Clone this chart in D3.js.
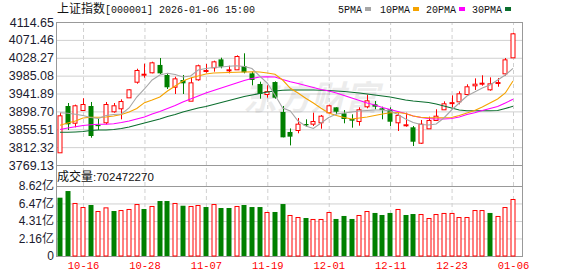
<!DOCTYPE html>
<html>
<head>
<meta charset="utf-8">
<script src="https://cdn.jsdelivr.net/npm/d3@7"></script>
<style>
  body { margin: 0; background: #fff; }
  svg { display: block; }
</style>
</head>
<body>
<svg id="chart" width="578" height="276"></svg>
<script>
// trading days shown on the chart
const dates = [
  "10-13", "10-14", "10-15", "10-16", "10-17", "10-20", "10-21", "10-22", "10-23", "10-24",
  "10-27", "10-28", "10-29", "10-30", "10-31", "11-03", "11-04", "11-05", "11-06", "11-07",
  "11-10", "11-11", "11-12", "11-13", "11-14", "11-17", "11-18", "11-19", "11-20", "11-21",
  "11-24", "11-25", "11-26", "11-27", "11-28", "12-01", "12-02", "12-03", "12-04", "12-05",
  "12-08", "12-09", "12-10", "12-11", "12-12", "12-15", "12-16", "12-17", "12-18", "12-19",
  "12-22", "12-23", "12-24", "12-25", "12-26", "12-29", "12-30", "12-31", "01-05", "01-06",
];

const opens = [
  3799.8, 3911.7, 3871.3, 3902.0, 3911.7, 3866.0, 3872.3, 3898.9, 3906.1, 3932.6,
  3970.4, 3988.5, 3993.1, 4010.9, 3986.6, 3958.3, 3974.5, 3924.5, 3976.2, 3998.0,
  4005.2, 4024.4, 3999.8, 4000.3, 4008.3, 3990.6, 3964.9, 3940.7, 3969.6, 3897.2,
  3848.9, 3853.7, 3868.2, 3869.0, 3872.3, 3896.4, 3908.5, 3894.0, 3880.3, 3875.4,
  3911.0, 3915.8, 3906.1, 3903.7, 3872.3, 3867.0, 3860.2, 3823.0, 3857.7, 3877.9,
  3903.7, 3920.0, 3923.0, 3940.7, 3961.7, 3967.5, 3952.0, 3969.0, 3990.6, 4029.3,
];
const highs = [
  3895.5, 3918.9, 3915.0, 3930.3, 3921.4, 3880.3, 3921.4, 3918.9, 3927.8, 3952.0,
  4001.8, 4013.9, 4018.7, 4027.6, 3990.6, 3982.4, 3986.6, 3980.9, 4011.6, 4013.2,
  4021.2, 4028.4, 4009.1, 4034.1, 4039.0, 3994.6, 3970.4, 3961.7, 3971.2, 3911.7,
  3857.4, 3882.7, 3879.5, 3895.5, 3890.0, 3914.8, 3908.5, 3902.0, 3891.6, 3908.5,
  3939.0, 3923.7, 3910.0, 3908.5, 3894.0, 3895.5, 3863.4, 3877.9, 3885.9, 3903.7,
  3923.0, 3937.5, 3947.2, 3964.1, 3978.5, 3985.9, 3980.9, 3979.3, 4027.6, 4088.8,
];
const lows = [
  3799.8, 3853.7, 3860.2, 3900.4, 3835.1, 3853.7, 3867.5, 3895.5, 3879.5, 3932.6,
  3965.6, 3980.1, 3990.6, 3989.0, 3952.8, 3940.7, 3940.7, 3924.5, 3972.8, 3992.2,
  3994.6, 4002.8, 3990.6, 3998.7, 3990.6, 3961.7, 3929.4, 3931.7, 3929.4, 3836.0,
  3816.5, 3845.7, 3861.7, 3863.4, 3856.8, 3893.8, 3891.6, 3869.9, 3859.3, 3864.1,
  3906.1, 3903.7, 3879.5, 3863.4, 3851.3, 3861.7, 3815.0, 3819.9, 3857.7, 3875.4,
  3903.7, 3908.5, 3915.8, 3940.7, 3950.4, 3960.7, 3948.7, 3958.3, 3984.9, 4029.3,
];
const closes = [
  3889.2, 3867.5, 3913.4, 3916.5, 3839.2, 3863.0, 3916.5, 3913.4, 3923.7, 3952.0,
  3998.7, 3989.7, 4017.2, 3990.6, 3956.9, 3978.5, 3966.5, 3968.8, 4010.1, 3998.7,
  4019.6, 4006.6, 4000.3, 4032.5, 3993.1, 3974.5, 3940.7, 3947.6, 3931.7, 3836.0,
  3837.6, 3869.0, 3865.0, 3875.4, 3888.3, 3913.4, 3897.9, 3880.3, 3876.2, 3903.7,
  3925.4, 3910.0, 3902.0, 3873.7, 3890.0, 3867.5, 3825.4, 3869.0, 3877.9, 3888.3,
  3918.2, 3921.0, 3942.3, 3959.3, 3965.6, 3968.0, 3966.5, 3969.6, 4024.4, 4087.3,
];
const prevClose = 3897.0;

const ma5 = [
  3895.5, 3894.1, 3891.6, 3888.7, 3883.9, 3881.5, 3888.7, 3891.2, 3892.4, 3906.9,
  3933.4, 3952.8, 3974.5, 3986.6, 3990.7, 3987.8, 3981.8, 3984.2, 3998.7, 4002.3,
  4004.7, 4005.9, 4007.6, 4009.1, 4007.1, 4002.3, 3984.2, 3967.3, 3938.3, 3906.9,
  3899.6, 3875.5, 3863.4, 3857.3, 3870.6, 3883.9, 3892.4, 3894.8, 3897.2, 3899.6,
  3900.8, 3902.0, 3902.0, 3899.6, 3891.2, 3880.3, 3871.8, 3867.0, 3865.8, 3868.2,
  3882.7, 3902.0, 3918.9, 3935.9, 3945.5, 3955.2, 3962.4, 3974.5, 3986.6, 4002.8,
];
const ma10 = [
  3865.1, 3870.6, 3875.5, 3882.7, 3884.4, 3884.4, 3885.1, 3887.5, 3891.2, 3897.2,
  3905.7, 3919.7, 3926.2, 3933.4, 3947.9, 3960.0, 3972.1, 3979.4, 3984.2, 3989.0,
  3991.4, 3992.2, 3992.6, 3993.1, 3993.8, 3994.6, 3993.8, 3991.4, 3988.3, 3974.5,
  3954.5, 3943.1, 3930.3, 3918.9, 3906.1, 3894.8, 3888.7, 3883.9, 3880.3, 3882.7,
  3885.1, 3888.7, 3892.4, 3895.5, 3896.0, 3893.6, 3887.5, 3884.4, 3883.4, 3883.4,
  3883.4, 3883.9, 3888.7, 3894.8, 3900.8, 3909.3, 3918.9, 3928.6, 3943.1, 3972.1,
];
const ma20 = [
  3854.9, 3858.5, 3861.4, 3864.6, 3866.3, 3867.5, 3867.7, 3868.9, 3871.8, 3875.5,
  3880.3, 3885.1, 3892.4, 3898.4, 3905.7, 3912.9, 3921.4, 3928.6, 3935.9, 3943.1,
  3949.1, 3955.2, 3961.2, 3967.3, 3973.3, 3978.1, 3981.8, 3982.5, 3981.8, 3975.7,
  3970.4, 3966.1, 3961.2, 3956.4, 3951.6, 3947.9, 3943.1, 3937.1, 3931.0, 3925.0,
  3918.9, 3914.1, 3908.1, 3903.2, 3898.4, 3893.6, 3887.5, 3883.9, 3881.5, 3880.3,
  3880.3, 3881.5, 3885.1, 3891.2, 3895.5, 3900.8, 3905.7, 3910.5, 3918.9, 3927.9,
];
const ma30 = [
  3848.1, 3848.1, 3848.9, 3850.1, 3852.5, 3853.7, 3853.7, 3854.9, 3857.3, 3861.0,
  3865.8, 3870.6, 3875.5, 3880.3, 3886.3, 3891.2, 3897.2, 3902.0, 3906.9, 3910.5,
  3915.3, 3920.2, 3925.0, 3929.8, 3934.7, 3938.3, 3941.9, 3945.5, 3947.9, 3949.6,
  3950.4, 3950.4, 3950.4, 3950.4, 3949.9, 3949.1, 3947.9, 3946.7, 3944.8, 3943.1,
  3940.7, 3938.3, 3935.9, 3933.4, 3929.8, 3926.2, 3923.8, 3922.1, 3920.2, 3916.5,
  3911.7, 3906.9, 3902.0, 3900.3, 3900.3, 3900.3, 3900.3, 3900.8, 3905.7, 3911.0,
];

// volume in 亿
const volumes = [
  7.18, 8.00, 6.53, 6.03, 6.28, 5.54, 5.99, 5.54, 5.66, 5.79,
  6.40, 5.79, 6.16, 6.77, 6.77, 6.53, 6.19, 6.16, 6.28, 6.03,
  6.40, 5.91, 5.91, 6.16, 6.28, 6.03, 6.03, 5.42, 5.42, 6.40,
  5.05, 4.80, 4.68, 4.56, 4.56, 5.42, 4.56, 4.93, 4.56, 5.05,
  5.54, 5.30, 5.05, 5.30, 5.79, 5.05, 5.17, 5.17, 4.68, 5.17,
  5.30, 5.30, 4.80, 4.80, 5.66, 5.66, 5.30, 4.93, 6.03, 7.02,
];
const lastVolume = "702472270";

const priceTicks = [4114.65, 4071.46, 4028.27, 3985.08, 3941.89, 3898.70, 3855.51, 3812.32, 3769.13];
const volTicks = [8.62, 6.47, 4.31, 2.16, 0];
const volTickLabels = ["8.62亿", "6.47亿", "4.31亿", "2.16亿", "0"];
const xTickDates = ["10-16", "10-28", "11-07", "11-19", "12-01", "12-11", "12-23", "01-06"];

const legendItems = [
  { name: "5PMA", color: "#a6a6a6" },
  { name: "10PMA", color: "#f5a300" },
  { name: "20PMA", color: "#ff00ff" },
  { name: "30PMA", color: "#0b6e2e" },
];

const UP = "#ff0000", DOWN = "#008000";
const FRAME = "#999", GRID = "#d0d0d0";

const svg = d3.select("#chart");
const left = 56, right = 522;
const mainTop = 22, mainBottom = 165;
const volTop = 186, volBottom = 256;

const x = d3.scalePoint().domain(dates).range([60, 513]);
const y = d3.scaleLinear().domain([3769.13, 4114.65]).range([mainBottom, mainTop]);
const yVol = d3.scaleLinear().domain([0, 8.62]).range([volBottom, volTop]);

svg.append("rect").attr("width", 578).attr("height", 276).attr("fill", "#fff");

// price grid + labels
const yAxis = svg.append("g")
  .attr("transform", `translate(${left},0)`)
  .call(d3.axisLeft(y).tickValues(priceTicks).tickFormat(d3.format(".2f"))
    .tickSize(-(right - left)).tickPadding(2));
yAxis.select(".domain").remove();
yAxis.selectAll("line").attr("stroke", GRID);
yAxis.selectAll("text").attr("fill", "#1b1b2f")
  .style("font-family", "'Liberation Sans', Arial, sans-serif").style("font-size", "12.5px");

// volume grid + labels
const vAxis = svg.append("g")
  .attr("transform", `translate(${left},0)`)
  .call(d3.axisLeft(yVol).tickValues(volTicks).tickFormat((d, i) => volTickLabels[i])
    .tickSize(-(right - left)).tickPadding(2));
vAxis.select(".domain").remove();
vAxis.selectAll("line").attr("stroke", GRID);
vAxis.selectAll("text").attr("fill", "#1b1b2f")
  .style("font-family", "'Liberation Sans', 'Noto Sans CJK SC', sans-serif").style("font-size", "12px");

// date labels + dashed verticals
const xAxis = svg.append("g")
  .attr("transform", `translate(0,${volBottom})`)
  .call(d3.axisBottom(x).tickValues(xTickDates).tickSize(-(volBottom - mainTop)).tickPadding(6));
xAxis.select(".domain").remove();
xAxis.selectAll("line").attr("stroke", GRID).attr("stroke-dasharray", "4,3");
xAxis.selectAll("text").attr("fill", UP)
  .style("font-family", "'Liberation Mono', monospace").style("font-size", "10.5px");

// watermark
svg.append("text")
  .attr("x", 243).attr("y", 110)
  .attr("fill", "#000").attr("opacity", 0.07)
  .style("font-family", "'Noto Sans CJK SC', sans-serif").style("font-size", "34px")
  .style("font-weight", "bold").style("font-style", "italic")
  .text("东方财富");

// frames
[[mainTop, mainBottom], [volTop, volBottom]].forEach(([t, b]) => {
  svg.append("rect")
    .attr("x", left + 0.5).attr("y", t + 0.5)
    .attr("width", right - left).attr("height", b - t)
    .attr("fill", "none").attr("stroke", FRAME);
});
svg.append("line").attr("x1", left + 0.5).attr("x2", left + 0.5)
  .attr("y1", mainBottom).attr("y2", volTop).attr("stroke", FRAME);
svg.append("line").attr("x1", right + 0.5).attr("x2", right + 0.5)
  .attr("y1", mainBottom).attr("y2", volTop).attr("stroke", FRAME);

const bars = dates.map((d, i) => ({
  date: d, o: opens[i], h: highs[i], l: lows[i], c: closes[i], v: volumes[i],
  up: closes[i] >= opens[i],
  volUp: closes[i] >= (i ? closes[i - 1] : prevClose),
}));

// candles
const bw = 5;
const candle = svg.append("g").selectAll("g").data(bars).join("g");
candle.append("line")
  .attr("x1", d => Math.round(x(d.date)) + 0.5).attr("x2", d => Math.round(x(d.date)) + 0.5)
  .attr("y1", d => y(d.h)).attr("y2", d => y(d.l))
  .attr("stroke", d => d.up ? UP : DOWN);
candle.append("rect")
  .attr("x", d => Math.round(x(d.date)) - 2 + (d.up ? 0 : -0.5))
  .attr("y", d => y(Math.max(d.o, d.c)) + (d.up ? 0.5 : 0))
  .attr("width", d => d.up ? bw - 1 : bw)
  .attr("height", d => Math.max(1, Math.abs(y(d.o) - y(d.c))))
  .attr("fill", d => d.up ? "#fff" : DOWN)
  .attr("stroke", d => d.up ? UP : "none");

// moving averages
const line = d3.line().x((d, i) => x(dates[i])).y(d => y(d));
[ma30, ma20, ma10, ma5].forEach((s, k) => {
  svg.append("path").datum(s)
    .attr("d", line).attr("fill", "none")
    .attr("stroke", legendItems[3 - k].color).attr("stroke-width", 1.1);
});

// volume bars
svg.append("g").selectAll("rect").data(bars).join("rect")
  .attr("x", d => Math.round(x(d.date)) - 2 + (d.volUp ? 0 : -0.5))
  .attr("y", d => yVol(d.v) + (d.volUp ? 0.5 : 0))
  .attr("width", d => d.volUp ? bw - 1 : bw)
  .attr("height", d => yVol(0) - yVol(d.v) - (d.volUp ? 0.5 : 0))
  .attr("fill", d => d.volUp ? "#fff" : DOWN)
  .attr("stroke", d => d.volUp ? UP : "none");

// title
const title = svg.append("text").attr("x", 57).attr("y", 13).attr("fill", "#111");
title.append("tspan").style("font-family", "'Noto Sans CJK SC', sans-serif").style("font-size", "12px")
  .text("上证指数");
title.append("tspan").style("font-family", "'Liberation Mono', monospace").style("font-size", "10px")
  .text("[000001] 2026-01-06 15:00");

// legend
const legendX = [338, 380, 426, 472];
legendItems.forEach((it, i) => {
  const t = svg.append("text").attr("x", legendX[i]).attr("y", 13).attr("fill", "#111")
    .style("font-family", "'Liberation Mono', monospace").style("font-size", "10px")
    .text(it.name);
  const w = t.node().getComputedTextLength();
  svg.append("rect").attr("x", legendX[i] + w + 3).attr("y", 7)
    .attr("width", 6).attr("height", 4).attr("fill", it.color);
});

// volume caption
const cap = svg.append("text").attr("x", 57).attr("y", 181).attr("fill", "#111");
cap.append("tspan").style("font-family", "'Noto Sans CJK SC', sans-serif").style("font-size", "12px")
  .text("成交量");
cap.append("tspan").style("font-family", "'Liberation Sans', Arial, sans-serif").style("font-size", "11.5px")
  .text(":" + lastVolume);
</script>
</body>
</html>
